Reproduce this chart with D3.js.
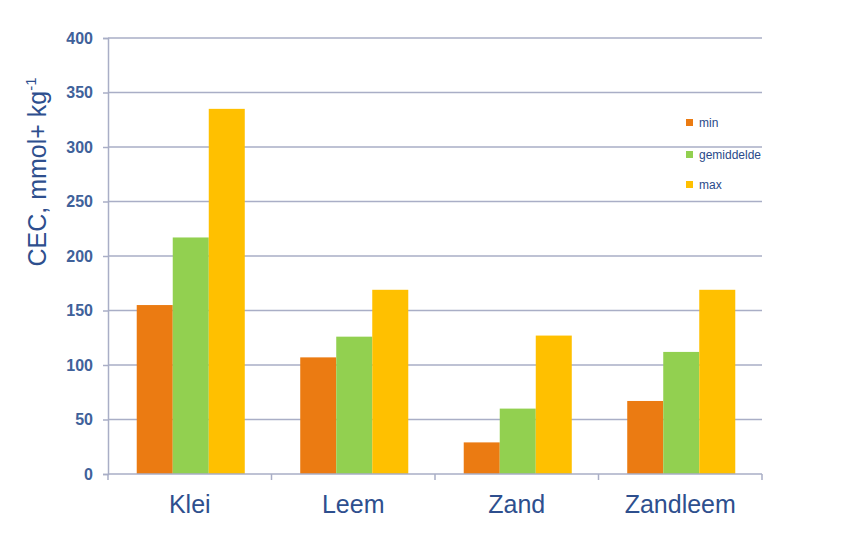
<!DOCTYPE html>
<html><head><meta charset="utf-8">
<script src="https://cdn.jsdelivr.net/npm/d3@7"></script>
<style>body{margin:0;background:#fff}svg{display:block}</style>
</head><body>
<svg id="c" width="848" height="552"></svg>
<script>
const categories = ["Klei", "Leem", "Zand", "Zandleem"];
const seriesNames = ["min", "gemiddelde", "max"];
const minValues = [155, 107, 29, 67];
const meanValues = [217, 126, 60, 112];
const maxValues = [335, 169, 127, 169];
const yTicks = [0, 50, 100, 150, 200, 250, 300, 350, 400];
const colors = ["#EB7B12", "#92D050", "#FFC000"];
const seriesValues = [minValues, meanValues, maxValues];

const svg = d3.select("#c");
const m = {left: 108, right: 762, top: 38, bottom: 474};
const x = d3.scaleBand().domain(categories).range([m.left, m.right]).paddingInner(0).paddingOuter(0);
const x1 = d3.scaleBand().domain(seriesNames).range([0, x.bandwidth()]).paddingInner(0).paddingOuter(0.77);
const y = d3.scaleLinear().domain([0, 400]).range([m.bottom, m.top]);

const gridColor = "#A9AEC6";
const textColor = "#2E4F8E";
const font = "Liberation Sans, Arial, sans-serif";

// gridlines
svg.append("g").selectAll("line").data(yTicks.filter(d => d > 0)).join("line")
  .attr("x1", m.left).attr("x2", m.right)
  .attr("y1", d => y(d)).attr("y2", d => y(d))
  .attr("stroke", gridColor).attr("stroke-width", 1.5);

// bars
const g = svg.append("g");
categories.forEach((c, i) => {
  seriesNames.forEach((s, j) => {
    const v = seriesValues[j][i];
    g.append("rect")
      .attr("x", x(c) + x1(s) + 1)
      .attr("width", x1.bandwidth())
      .attr("y", y(v))
      .attr("height", y(0) - y(v))
      .attr("fill", colors[j]);
  });
});

// y axis
const yAxis = d3.axisLeft(y).tickValues(yTicks).tickSize(5).tickPadding(10);
const ya = svg.append("g").attr("transform", `translate(${m.left},0)`).call(yAxis);
ya.select(".domain").attr("stroke", gridColor).attr("stroke-width", 1.5);
ya.selectAll(".tick line").attr("stroke", gridColor).attr("stroke-width", 1.5);
ya.selectAll("text").attr("fill", "#40619A").attr("font-family", font)
  .attr("font-size", 16).attr("font-weight", "bold");

// x axis
svg.append("line").attr("x1", m.left).attr("x2", m.right).attr("y1", y(0)).attr("y2", y(0))
  .attr("stroke", gridColor).attr("stroke-width", 1.5);
const bounds = categories.map(c => x(c)).concat([x(categories[categories.length-1]) + x.bandwidth()]);
svg.append("g").selectAll("line").data(bounds).join("line")
  .attr("x1", d => d).attr("x2", d => d).attr("y1", y(0)).attr("y2", y(0) + 6)
  .attr("stroke", gridColor).attr("stroke-width", 1.5);
svg.append("g").selectAll("text").data(categories).join("text")
  .attr("x", d => x(d) + x.bandwidth() / 2)
  .attr("y", 513)
  .attr("text-anchor", "middle")
  .attr("fill", textColor)
  .attr("font-family", font)
  .attr("font-size", 25)
  .text(d => d);

// y title
const yt = svg.append("text")
  .attr("transform", "translate(46,172) rotate(-90)")
  .attr("text-anchor", "middle")
  .attr("fill", textColor)
  .attr("font-family", font)
  .attr("font-size", 25);
yt.append("tspan").text("CEC, mmol+ kg");
yt.append("tspan").attr("font-size", 15).attr("dy", -10).text("-1");

// legend
const legY = [124, 156, 186];
const lg = svg.append("g");
seriesNames.forEach((s, i) => {
  lg.append("rect").attr("x", 686).attr("y", legY[i] - 5).attr("width", 7).attr("height", 7).attr("fill", colors[i]);
  lg.append("text").attr("x", 699).attr("y", legY[i] + 3)
    .attr("fill", "#2A4A8A").attr("font-family", font)
    .attr("font-size", 12).text(s);
});
</script>
</body></html>
